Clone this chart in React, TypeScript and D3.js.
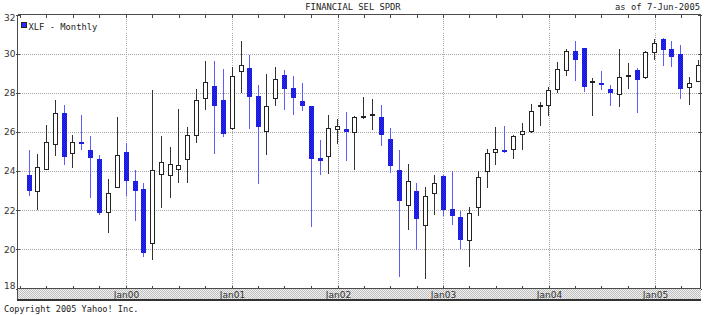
import React from "react";
import * as d3 from "d3";

// ---- data (Jan 1999 .. May 2005, monthly) ----
const firstMonth = new Date(1999, 0, 1);
const endMonth = new Date(2005, 5, 1);
const openValues = [
  23.82, 22.92, 24.08, 25.34, 26.95, 24.88, 25.46, 25.10, 24.62, 21.86, 23.16, 24.96,
  23.48, 23.09, 20.28, 23.79, 23.74, 24.08, 24.55, 25.81, 27.69, 28.37, 27.63, 26.15,
  29.05, 29.29, 27.86, 26.00, 27.69, 28.91, 28.26, 27.60, 27.34, 24.67, 24.71, 26.12,
  26.15, 25.95, 26.71, 26.80, 26.77, 25.64, 24.03, 22.24, 22.97, 21.18, 22.85, 23.74,
  22.07, 21.66, 20.42, 22.09, 23.94, 24.93, 25.10, 25.06, 25.83, 25.98, 27.26, 27.31,
  28.16, 29.13, 30.14, 30.27, 28.54, 28.52, 28.21, 27.89, 28.79, 29.18, 28.76, 30.03,
  30.77, 30.26, 30.00, 28.25, 28.54,
];
const highValues = [
  25.06, 24.89, 26.34, 27.65, 27.36, 25.85, 26.87, 25.78, 24.83, 23.62, 26.77, 25.44,
  24.08, 23.40, 28.13, 25.78, 25.22, 27.19, 26.26, 28.20, 29.61, 29.61, 29.23, 29.30,
  30.66, 29.95, 28.42, 28.96, 29.32, 29.18, 28.84, 28.50, 27.34, 25.61, 26.87, 26.68,
  27.02, 26.80, 27.79, 27.69, 27.40, 26.20, 25.10, 24.37, 23.40, 23.19, 23.82, 23.82,
  23.99, 21.95, 22.17, 23.99, 25.13, 26.26, 26.29, 25.86, 26.46, 27.45, 27.51, 28.30,
  29.56, 30.24, 30.66, 30.27, 28.76, 29.13, 28.38, 30.24, 29.52, 29.27, 30.12, 30.75,
  30.80, 30.63, 30.43, 28.81, 29.69,
];
const lowValues = [
  22.71, 22.03, 24.04, 24.76, 24.33, 24.16, 25.06, 22.63, 21.74, 20.84, 23.16, 22.71,
  21.44, 19.62, 19.45, 22.12, 22.63, 23.40, 23.40, 25.44, 27.14, 24.88, 25.73, 26.12,
  27.99, 26.17, 23.36, 24.81, 27.34, 27.14, 26.89, 27.06, 21.15, 23.82, 23.87, 25.40,
  24.50, 24.04, 26.66, 26.09, 25.27, 23.91, 18.60, 21.01, 19.99, 18.50, 21.78, 21.69,
  21.22, 20.03, 19.11, 21.69, 23.11, 24.30, 24.93, 24.62, 25.06, 25.95, 26.29, 26.83,
  27.99, 28.88, 28.59, 28.03, 26.80, 28.16, 27.31, 27.26, 28.20, 26.97, 28.72, 29.66,
  29.39, 29.32, 27.69, 27.36, 28.54,
];
const closeValues = [
  22.97, 24.21, 25.51, 26.95, 24.71, 25.49, 25.40, 24.66, 21.86, 22.89, 24.81, 23.48,
  22.97, 19.79, 24.08, 24.47, 24.37, 24.33, 25.86, 27.62, 28.57, 27.34, 25.90, 28.88,
  29.40, 27.79, 26.26, 27.34, 28.71, 28.20, 27.74, 27.31, 24.62, 24.50, 26.20, 26.29,
  26.02, 26.77, 26.82, 26.92, 25.86, 24.25, 22.46, 23.48, 21.56, 22.71, 23.40, 22.00,
  21.69, 20.50, 21.86, 23.70, 24.93, 25.13, 24.96, 25.78, 26.03, 27.09, 27.40, 28.13,
  29.23, 30.14, 29.69, 28.28, 28.62, 28.47, 27.99, 28.79, 28.91, 28.67, 30.09, 30.54,
  30.17, 29.83, 28.20, 28.50, 29.40,
];
const yTicks = [18, 20, 22, 24, 26, 28, 30, 32];
const yearLabels = ["Jan00", "Jan01", "Jan02", "Jan03", "Jan04", "Jan05"];
const yearDates = [2000, 2001, 2002, 2003, 2004, 2005].map((y) => new Date(y, 0, 1));
const titleText = "FINANCIAL SEL SPDR";
const asOfText = "7-Jun-2005";
const legendText = "XLF - Monthly";
const copyrightText = "Copyright 2005 Yahoo! Inc.";

const W = 707;
const H = 315;
const L = 18;
const R = 700;
const T = 14.5;
const B = 288.5;

export default function App() {
  const months = d3.timeMonth.range(firstMonth, endMonth);
  const candleDates = months.map((m) => d3.timeDay.offset(d3.timeMonth.offset(m, 1), -1));

  const x = d3
    .scaleTime()
    .domain([new Date(1998, 11, 24), new Date(2005, 5, 6, 12)])
    .range([L, R]);
  const y = d3.scaleLinear().domain([18, 32]).range([B, T]);
  const quarterTicks = d3.timeMonth.every(3)!.range(new Date(1999, 0, 1), new Date(2005, 6, 1));

  const mono = "'DejaVu Sans Mono', monospace";
  const sans = "'DejaVu Sans', sans-serif";
  const axisCol = "#4a4a4a";
  const gridCol = "#a6a6a6";

  return (
    <svg
      width={W}
      height={H}
      style={{ position: "fixed", left: 0, top: 0, background: "#fff" }}
      shapeRendering="crispEdges"
    >
      <defs>
        <pattern id="dither" width="2" height="2" patternUnits="userSpaceOnUse">
          <rect width="2" height="2" fill="#f2f2f2" />
          <rect width="1" height="1" fill="#bdbdbd" />
          <rect x="1" y="1" width="1" height="1" fill="#bdbdbd" />
        </pattern>
        <pattern id="bluedither" width="2" height="2" patternUnits="userSpaceOnUse">
          <rect width="2" height="2" fill="#2a2aff" />
          <rect width="1" height="1" fill="#1414c8" />
          <rect x="1" y="1" width="1" height="1" fill="#1414c8" />
        </pattern>
        <clipPath id="plotclip">
          <rect x={L} y={T} width={R - L} height={B - T} />
        </clipPath>
      </defs>
      <rect width={W} height={H} fill="#fff" />

      {/* title */}
      <text x={353} y={10} fontFamily={mono} fontSize={8.8} textAnchor="middle" fill="#222">
        {titleText}
      </text>
      <text x={615} y={10} fontFamily={mono} fontSize={8.8} fill="#222">
        as of
      </text>
      <text x={700} y={10} fontFamily={mono} fontSize={8.8} textAnchor="end" fill="#222">
        {asOfText}
      </text>

      {/* horizontal grid */}
      {yTicks
        .filter((v) => v > 18 && v < 32)
        .map((v) => (
          <line
            key={"hg" + v}
            x1={L}
            x2={R}
            y1={Math.round(y(v)) + 0.5}
            y2={Math.round(y(v)) + 0.5}
            stroke={gridCol}
            strokeDasharray="1,1"
          />
        ))}
      {/* vertical grid */}
      {yearDates.map((d, i) => (
        <line
          key={"vg" + i}
          x1={Math.round(x(d)) + 0.5}
          x2={Math.round(x(d)) + 0.5}
          y1={T}
          y2={B}
          stroke={gridCol}
          strokeDasharray="1,1"
        />
      ))}

      {/* legend */}
      <rect x={21} y={22} width={5} height={5} fill="#2a2aff" stroke="#222" strokeWidth={1} />
      <text x={28.5} y={29.5} fontFamily={mono} fontSize={8.8} fill="#222">
        {legendText}
      </text>

      {/* candles */}
      <g clipPath="url(#plotclip)">
        {candleDates.map((d, i) => {
          const o = openValues[i];
          const c = closeValues[i];
          const h = highValues[i];
          const l = lowValues[i];
          const cx = Math.round(x(d)) + 0.5;
          const down = c < o;
          const yTop = Math.round(y(Math.max(o, c)));
          let yBot = Math.round(y(Math.min(o, c)));
          if (yBot - yTop < 2) yBot = yTop + 2;
          const wickCol = down ? "#5c5cff" : "#333";
          return (
            <g key={i}>
              <line x1={cx} x2={cx} y1={y(h)} y2={y(l)} stroke={wickCol} strokeWidth={1} />
              {down ? (
                <rect x={cx - 2.5} y={yTop} width={5} height={yBot - yTop} fill="url(#bluedither)" />
              ) : (
                <rect
                  x={cx - 2}
                  y={yTop + 0.5}
                  width={4}
                  height={yBot - yTop - 1}
                  fill="#fff"
                  stroke="#222"
                  strokeWidth={1}
                />
              )}
            </g>
          );
        })}
      </g>

      {/* frame */}
      <line x1={L - 0.5} x2={R + 0.5} y1={T} y2={T} stroke={axisCol} />
      <line x1={L - 0.5} x2={L - 0.5} y1={T} y2={B} stroke={axisCol} />
      <line x1={R + 0.5} x2={R + 0.5} y1={T} y2={300} stroke={axisCol} />
      {/* quarter ticks */}
      {quarterTicks.map((d, i) => {
        const px = Math.round(x(d)) + 0.5;
        if (px < L || px > R) return null;
        return (
          <g key={"qt" + i}>
            <line x1={px} x2={px} y1={T} y2={T + 3} stroke={axisCol} />
            <line x1={px} x2={px} y1={B - 3} y2={B} stroke={axisCol} />
          </g>
        );
      })}
      {/* y ticks */}
      {yTicks.map((v) => (
        <g key={"yt" + v}>
          <line x1={L - 2} x2={L + 2} y1={Math.round(y(v)) + 0.5} y2={Math.round(y(v)) + 0.5} stroke={axisCol} />
          <line x1={R - 2} x2={R + 2} y1={Math.round(y(v)) + 0.5} y2={Math.round(y(v)) + 0.5} stroke={axisCol} />
        </g>
      ))}

      {/* bottom band */}
      <rect x={L - 0.5} y={B} width={R - L + 1} height={299.5 - B} fill="url(#dither)" />
      <line x1={L - 0.5} x2={R + 0.5} y1={B} y2={B} stroke={axisCol} />
      <line x1={L - 0.5} x2={L - 0.5} y1={B} y2={300} stroke={axisCol} />
      <line x1={L - 1} x2={R + 1} y1={300} y2={300} stroke="#333" strokeWidth={2} />
      {yearDates.map((d, i) => (
        <text
          key={"xl" + i}
          x={Math.round(x(d)) + 0.5}
          y={297.5}
          fontFamily={sans}
          fontSize={9}
          textAnchor="middle"
          fill="#333"
        >
          {yearLabels[i]}
        </text>
      ))}

      {/* y labels */}
      {yTicks.map((v) => (
        <text
          key={"yl" + v}
          x={15.5}
          y={Math.min(Math.max(y(v), 17.5), 286) + 3.3}
          fontFamily={sans}
          fontSize={9}
          textAnchor="end"
          fill="#333"
        >
          {v}
        </text>
      ))}

      {/* copyright */}
      <text x={4} y={311.5} fontFamily={mono} fontSize={8.6} fill="#222">
        {copyrightText}
      </text>
    </svg>
  );
}
